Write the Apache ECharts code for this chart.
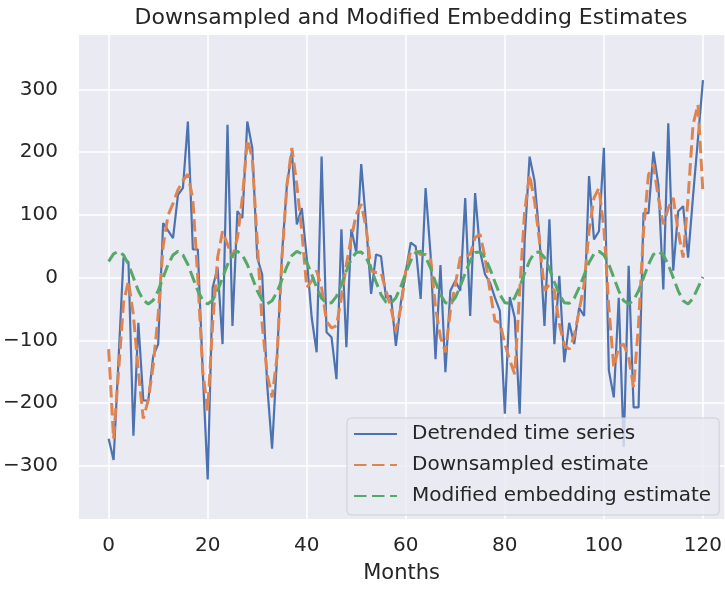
<!DOCTYPE html>
<html>
<head>
<meta charset="utf-8">
<script src="https://cdn.jsdelivr.net/npm/echarts@6/dist/echarts.min.js"></script>
<style>
  html, body { margin: 0; padding: 0; background: #fff; }
  #chart { width: 725px; height: 589px; }
</style>
</head>
<body>
<div id="chart"></div>
<script>
  // values, one per month (0..120)
  const detrended = [
    -257, -291, -130, 32, 25, -252, -72, -196, -196, -125,
    -106, 87, 75, 63, 132, 143, 249, 45, 45, -150,
    -322, -16, 16, -106, 244, -77, 106, 95, 249, 207,
    32, 5, -170, -273, -127, 37, 148, 201, 85, 111,
    32, -64, -119, 193, -87, -95, -162, 77, -111, 77,
    40, 181, 85, -26, 37, 34, -32, -29, -109, -40,
    10, 56, 50, -34, 143, 37, -130, 20, -151, -21,
    -5, -21, 127, -61, 135, 42, 5, -8, -32, -53,
    -217, -31, -64, -217, 60, 193, 154, 64, -77, 93,
    -106, 3, -135, -72, -106, -48, -61, 162, 61, 74,
    207, -148, -191, -32, -270, 19, -207, -207, 103, 103,
    201, 148, -19, 246, 11, 106, 114, 32, 130, 222,
    315
  ];
  const downsampled = [
    -114, -257, -150, -40, -5, -60, -150, -225, -195, -140,
    -60, 50, 100, 118, 140, 155, 165, 125, 0, -150,
    -212, -74, 32, 74, 53, 32, 64, 127, 220, 191,
    58, -74, -154, -191, -127, 32, 148, 207, 148, 74,
    -16, -5, 11, -16, -70, -80, -77, -32, 21, 64,
    101, 117, 79, 11, 8, 8, -21, -48, -85, -48,
    11, 42, 42, 37, 37, 32, -48, -95, -119, -53,
    -11, 32, 34, 37, 64, 69, 32, -21, -69, -72,
    -106, -132, -154, -21, 106, 164, 122, 58, -21, -11,
    -21, -74, -108, -114, -93, -53, -11, 74, 127, 143,
    79, -48, -143, -111, -106, -127, -175, -74, 74, 164,
    180, 127, 85, 111, 127, 74, 32, 127, 244, 276,
    135
  ];
  const embedding = [
    26, 38, 42, 36, 21, 0, -21, -36, -42, -36,
    -21, 0, 21, 36, 42, 36, 21, 0, -21, -36,
    -42, -36, -21, 0, 21, 36, 42, 36, 21, 0,
    -21, -36, -42, -37, -23, -3, 18, 35, 42, 38,
    25, 5, -16, -33, -41, -40, -30, -11, 11, 30,
    40, 41, 32, 14, -7, -27, -39, -41, -32, -14,
    7, 27, 40, 42, 33, 15, -7, -27, -40, -41,
    -32, -14, 7, 27, 40, 41, 32, 14, -7, -27,
    -40, -41, -32, -14, 7, 27, 40, 41, 32, 14,
    -7, -27, -40, -41, -33, -16, 4, 24, 38, 42,
    36, 21, 0, -21, -37, -42, -36, -21, 0, 21,
    37, 42, 36, 21, 0, -21, -37, -42, -33, -16,
    1
  ];
  const xTicks = [0, 20, 40, 60, 80, 100, 120];
  const yTicks = [-300, -200, -100, 0, 100, 200, 300];

  const pairs = arr => arr.map((v, i) => [i, v]);
  const font = 'DejaVu Sans';
  const textColor = '#262626';
  const dash = [12.5, 5.5];

  const chart = echarts.init(document.getElementById('chart'));
  chart.setOption({
    animation: false,
    backgroundColor: '#fff',
    title: {
      text: 'Downsampled and Modified Embedding Estimates',
      left: 406,
      top: 2,
      textAlign: 'center',
      textStyle: { color: textColor, fontFamily: font, fontSize: 22, fontWeight: 'normal' }
    },
    grid: {
      left: 78,
      right: 0,
      top: 35,
      bottom: 68,
      show: true,
      backgroundColor: '#eaeaf2',
      borderWidth: 0
    },
    legend: {
      orient: 'vertical',
      left: 347,
      top: 418,
      padding: [6, 8, 9, 6],
      itemWidth: 43,
      itemHeight: 18,
      itemGap: 11,
      backgroundColor: 'rgba(234,234,242,0.8)',
      borderColor: '#cfcfd6',
      borderWidth: 1,
      borderRadius: 4,
      itemStyle: { opacity: 0 },
      textStyle: { color: textColor, fontFamily: font, fontSize: 20, padding: [0, 0, 0, 10] },
      data: ['Detrended time series', 'Downsampled estimate', 'Modified embedding estimate']
    },
    xAxis: {
      type: 'value',
      min: -6,
      max: 124.3,
      name: 'Months',
      nameLocation: 'middle',
      nameGap: 44,
      nameTextStyle: { color: textColor, fontFamily: font, fontSize: 21 },
      axisLine: { show: false },
      axisTick: { show: false, customValues: xTicks },
      axisLabel: { customValues: xTicks, color: textColor, fontFamily: font, fontSize: 20, margin: 17 },
      splitLine: { show: true, lineStyle: { color: '#fff', width: 1.5 } }
    },
    yAxis: {
      type: 'value',
      min: -385,
      max: 387,
      axisLine: { show: false },
      axisTick: { show: false, customValues: yTicks },
      axisLabel: {
        customValues: yTicks,
        color: textColor,
        fontFamily: font,
        fontSize: 20,
        margin: 21,
        formatter: v => (v < 0 ? '\u2212' + Math.abs(v) : String(v))
      },
      splitLine: { show: true, lineStyle: { color: '#fff', width: 1.5 } }
    },
    series: [
      {
        name: 'Detrended time series',
        type: 'line',
        data: pairs(detrended),
        symbol: 'none',
        color: '#4c72b0',
        lineStyle: { width: 2.2, color: '#4c72b0' }
      },
      {
        name: 'Downsampled estimate',
        type: 'line',
        data: pairs(downsampled),
        symbol: 'none',
        color: '#dd8452',
        lineStyle: { width: 3, color: '#dd8452', type: dash }
      },
      {
        name: 'Modified embedding estimate',
        type: 'line',
        data: pairs(embedding),
        symbol: 'none',
        color: '#55a868',
        lineStyle: { width: 3, color: '#55a868', type: dash }
      }
    ]
  });
</script>
</body>
</html>
